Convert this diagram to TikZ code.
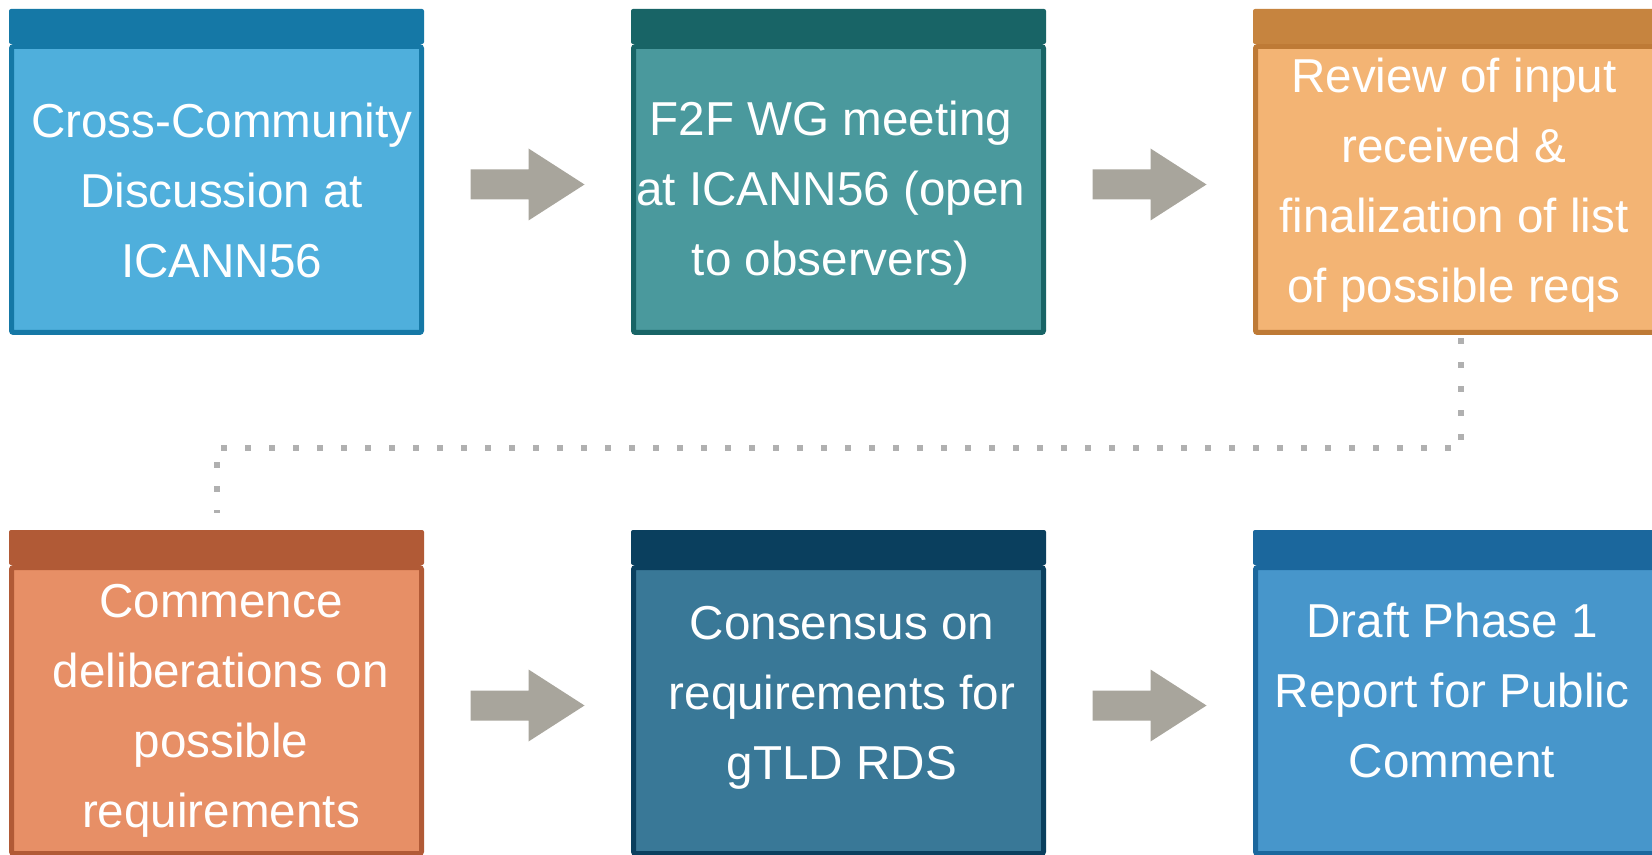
\documentclass[tikz,border=0pt]{standalone}
\usepackage{tikz}
\usepackage{xcolor}
\usepackage{fontspec}
\setmainfont{Liberation Sans}
\usetikzlibrary{calc}

\definecolor{cyanfill}{HTML}{4FAFDC}
\definecolor{cyanedge}{HTML}{1578A6}
\definecolor{tealfill}{HTML}{4A999D}
\definecolor{tealedge}{HTML}{186466}
\definecolor{orangefill}{HTML}{F3B474}
\definecolor{orangeedge}{HTML}{BE7A36}
\definecolor{orangehead}{HTML}{C6843F}
\definecolor{salmonfill}{HTML}{E78F66}
\definecolor{salmonedge}{HTML}{B15A36}
\definecolor{navyfill}{HTML}{397897}
\definecolor{navyedge}{HTML}{0A3F5E}
\definecolor{bluefill}{HTML}{4796CB}
\definecolor{blueedge}{HTML}{1B679D}
\definecolor{arrowgray}{HTML}{A8A59C}
\definecolor{dotgray}{HTML}{B0B0B0}

\begin{document}
\begin{tikzpicture}[x=0.5pt,y=-0.5pt,
    stagebox/.style={rectangle, rounded corners=1pt, line width=2.5pt, inner sep=0pt,
        minimum width=205pt, minimum height=143pt},
    stagetext/.style={text=white, align=center, inner sep=0pt,
        font=\fontsize{23.8pt}{35pt}\selectfont},
    flowgray/.style={fill=arrowgray},
    linkdots/.style={draw=dotgray, line width=3pt, dash pattern=on 3pt off 9pt}]
    \useasboundingbox (0,0) rectangle (1652,855);
    \fill[white] (0,0) rectangle (1652,855);

    % boxes
    \node[stagebox, fill=cyanfill, draw=cyanedge] (s1) at (216.5,189.5) {};
    \node[stagebox, fill=tealfill, draw=tealedge] (s2) at (838.5,189.5) {};
    \node[stagebox, fill=orangefill, draw=orangeedge] (s3) at (1460.5,189.5) {};
    \node[stagebox, fill=salmonfill, draw=salmonedge] (s4) at (216.5,710.5) {};
    \node[stagebox, fill=navyfill, draw=navyedge] (s5) at (838.5,710.5) {};
    \node[stagebox, fill=bluefill, draw=blueedge] (s6) at (1460.5,710.5) {};
    \foreach \s/\c in {s1/cyanedge, s2/tealedge, s3/orangehead, s4/salmonedge, s5/navyedge, s6/blueedge}
        \fill[\c, rounded corners=1pt] (\s.north west) rectangle ([yshift=17.5pt]\s.north east);

    % texts
    \node[stagetext] (t1) at (221.7,190) {Cross-Community\\Discussion at\\ICANN56};
    \node[stagetext] (t2) at (830.8,193) {F2F WG meeting\\at ICANN56 (open\\to observers)};
    \node[stagetext] (t3) at (1454,185.5) {Review of input\\received \&\\finalization of list\\of possible reqs};
    \node[stagetext] (t4) at (221,710.5) {Commence\\deliberations on\\possible\\requirements};
    \node[stagetext] (t5) at (842,698) {Consensus on\\requirements for\\gTLD RDS};
    \node[stagetext] (t6) at (1452,690) {Draft Phase 1\\Report for Public\\Comment};

    % arrows
    \foreach \a/\b in {s1/s2, s2/s3, s4/s5, s5/s6}
        \fill[flowgray] ($(\a.east)!0.5!(\b.west)+(-57,-20)$) -- ++(58,0) -- ++(0,-21)
            -- ++(56,36) -- ++(-56,36) -- ++(0,-21) -- ++(-58,0) -- cycle;

    % row link
    \draw[linkdots] ([yshift=-1.5pt]s3.south) -- ++(0,110) -| ([yshift=26pt]s4.north);
\end{tikzpicture}
\end{document}
